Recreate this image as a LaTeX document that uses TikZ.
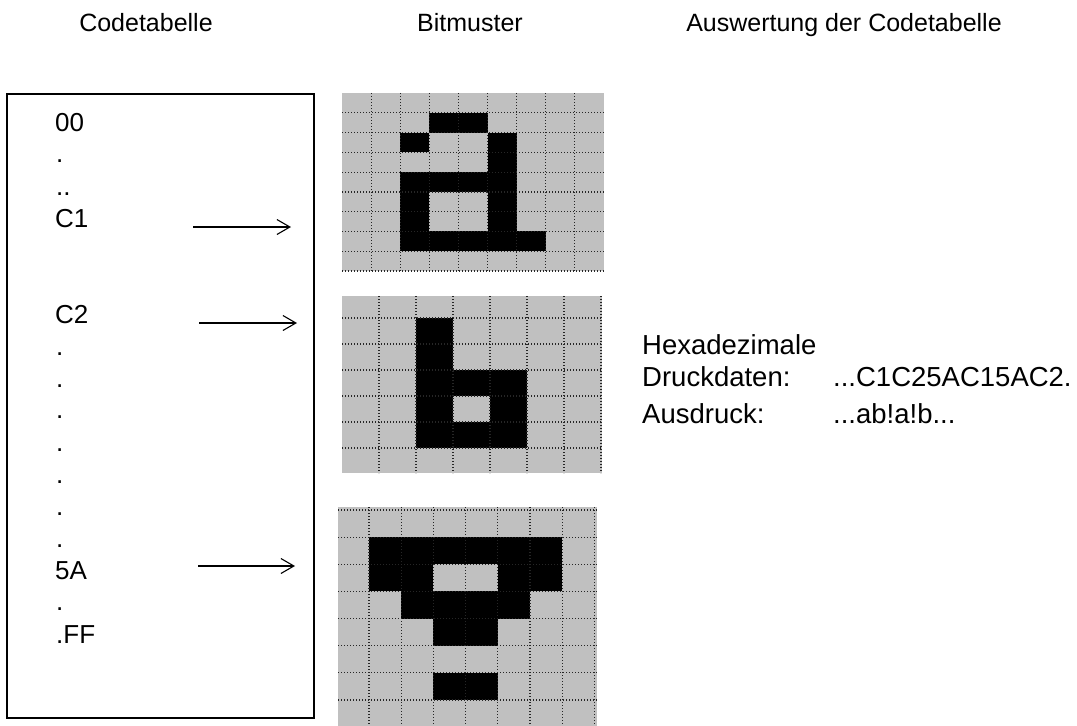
\documentclass[tikz,border=0pt]{standalone}
\usepackage{fontspec}
\setmainfont{Liberation Sans}
\usetikzlibrary{arrows.meta}

\definecolor{bitgray}{HTML}{C0C0C0}

\tikzset{
  txt/.style={inner sep=0pt, font=\fontsize{25}{30}\selectfont},
  lbl/.style={txt, anchor=base west, font=\fontsize{26}{30}\selectfont},
  evl/.style={txt, anchor=base west, font=\fontsize{27.5}{32}\selectfont},
  head/.style={txt, anchor=base},
  frame/.style={draw=black, line width=1.3pt},
  ptr/.style={line width=1.1pt, -{Straight Barb[length=13pt,width=15pt,line width=1.1pt]}},
  pix/.style={fill=black},
  gridline/.style={draw=black!85, line width=1.2pt, dash pattern=on 1.4pt off 1.6pt},
}

\begin{document}
\begin{tikzpicture}[x=1pt, y=-1pt]
\useasboundingbox (0,0) rectangle (1077,726);

% column headings
\node[head] (hcode) at (146,31) {Codetabelle};
\node[head] (hbit)  at (470,31) {Bitmuster};
\node[head] (heval) at (844,31) {Auswertung der Codetabelle};

% code table
\draw[frame] (7,94) rectangle (314,718);
\node[lbl] (c00) at (55,131) {00};
\node[lbl] (d1)  at (56,162) {.};
\node[lbl] (d2)  at (56,195) {..};
\node[lbl] (cC1) at (55,227) {C1};
\node[lbl] (cC2) at (55,323) {C2};
\foreach \y [count=\i] in {355,387,418,451,483,515,547}
  \node[lbl] (e\i) at (56,\y) {.};
\node[lbl] (c5A) at (55,579) {5A};
\node[lbl] (d3)  at (56,610) {.};
\node[lbl] (cFF) at (56,643) {.FF};

% pointers into the bit patterns
\coordinate (p1s) at (193,227); \coordinate (p1e) at (291,227);
\coordinate (p2s) at (199,323); \coordinate (p2e) at (297,323);
\coordinate (p3s) at (198,566); \coordinate (p3e) at (295,566);
\draw[ptr] (p1s) -- (p1e);
\draw[ptr] (p2s) -- (p2e);
\draw[ptr] (p3s) -- (p3e);

% bit pattern "a" (9 x 9)
\fill[bitgray] (342,93) rectangle (604,271);
\foreach \c/\r in {3/1,4/1,2/2,5/2,5/3,2/4,3/4,4/4,5/4,2/5,5/5,2/6,5/6,2/7,3/7,4/7,5/7,6/7}
  \fill[pix] ({342+29.11*\c},{93+19.78*\r}) rectangle ++(29.11,19.78);
\foreach \k in {1,...,8}
  \draw[gridline] ({342+29.11*\k},93) -- ({342+29.11*\k},271);
\foreach \k in {1,...,9}
  \draw[gridline] (342,{93+19.78*\k}) -- (604,{93+19.78*\k});

% bit pattern "b" (7 x 7)
\fill[bitgray] (342,296) rectangle (602,473);
\fill[pix] (416,318) rectangle (453,448);
\fill[pix] (453,370) rectangle (527,396);
\fill[pix] (490,396) rectangle (527,422);
\fill[pix] (453,422) rectangle (527,448);
\foreach \k in {1,...,7}
  \draw[gridline] ({342+37*\k},296) -- ({342+37*\k},473);
\foreach \y in {318,344,370,396,422,448}
  \draw[gridline] (342,\y) -- (602,\y);

% bit pattern "!" (8 x 8)
\fill[bitgray] (338,507) rectangle (597,726);
\foreach \c/\r in {1/1,2/1,3/1,4/1,5/1,6/1,1/2,2/2,5/2,6/2,2/3,3/3,4/3,5/3,3/4,4/4,3/6,4/6}
  \fill[pix] ({369+32.2*(\c-1)},{510+27.14*\r}) rectangle ++(32.2,27.14);
\foreach \k in {0,...,7}
  \draw[gridline] ({369+32.2*\k},507) -- ({369+32.2*\k},726);
\foreach \k in {0,...,7}
  \draw[gridline] (338,{510+27.14*\k}) -- (597,{510+27.14*\k});

% evaluation
\node[evl] (hex)  at (642,354) {Hexadezimale};
\node[evl] (druck) at (642,386) {Druckdaten:};
\node[evl] (hexval) at (833,386) {...C1C25AC15AC2.};
\node[evl] (aus)  at (642,423) {Ausdruck:};
\node[evl] (ausval) at (833,423) {...ab!a!b...};
\end{tikzpicture}
\end{document}
